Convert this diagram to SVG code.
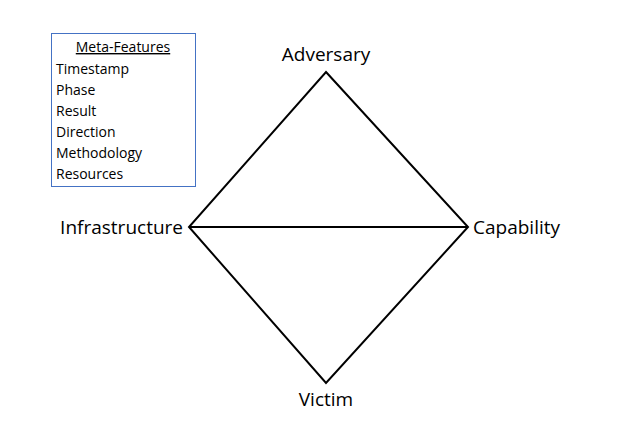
<svg xmlns="http://www.w3.org/2000/svg" width="628" height="437" viewBox="0 0 628 437">
<style>
text{font-family:"Open Sans","Liberation Sans",sans-serif;fill:#000}
.m{font-size:14px}
.l{font-size:19px}
.e{stroke:#000;stroke-width:2;fill:none}
</style>
<rect width="628" height="437" fill="#fff"/>
<g id="meta">
<rect x="51.5" y="33.5" width="144" height="153" fill="#fff" stroke="#4472c4" stroke-width="1"/>
<text class="m" x="123" y="52" text-anchor="middle" text-decoration="underline">Meta-Features</text>
<text class="m" x="56" y="74">Timestamp</text>
<text class="m" x="56" y="95">Phase</text>
<text class="m" x="56" y="116">Result</text>
<text class="m" x="56" y="137">Direction</text>
<text class="m" x="56" y="158">Methodology</text>
<text class="m" x="56" y="179">Resources</text>
</g>
<g id="connectors">
<polygon class="e" points="326,72 468,227 326,383 189,227"/>
<line class="e" x1="189" y1="227" x2="468" y2="227"/>
</g>
<g id="adversary"><text class="l" x="326" y="61" text-anchor="middle">Adversary</text></g>
<g id="infrastructure"><text class="l" x="183" y="234" text-anchor="end">Infrastructure</text></g>
<g id="capability"><text class="l" x="473" y="234">Capability</text></g>
<g id="victim"><text class="l" x="326" y="406" text-anchor="middle">Victim</text></g>
</svg>
